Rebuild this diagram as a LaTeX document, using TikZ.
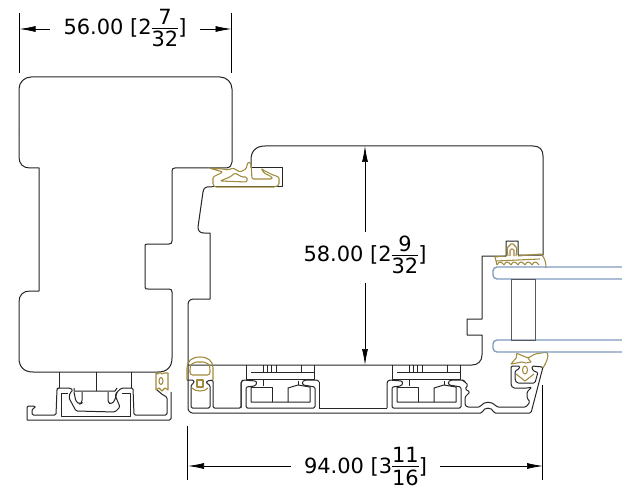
\documentclass[tikz,border=0pt]{standalone}
\usepackage{fontspec}
\setmainfont{DejaVu Sans}
\usetikzlibrary{arrows.meta}
\definecolor{sealgold}{HTML}{A08A3C}
\definecolor{glassblue}{HTML}{7E9ABD}
\tikzset{
	profile/.style={draw=black!85, line width=.75pt, line join=round},
	seal/.style={draw=sealgold, line width=.8pt, line join=round},
	glass/.style={draw=glassblue, line width=1pt},
	dimline/.style={line width=.55pt},
	dimarrow/.style={line width=.55pt, -{Latex[length=12pt, width=4.5pt]}},
	dimtext/.style={font=\fontsize{15.7}{17}\selectfont, inner sep=0pt, anchor=base},
}
\newcommand{\frc}[2]{\raisebox{-9pt}{\vbox{\offinterlineskip\halign{\hfil##\hfil\cr #1\cr\noalign{\kern2.2pt\hrule height .6pt\kern2.2pt}#2\cr}}}}
\begin{document}
\begin{tikzpicture}[x=.75pt, y=-.75pt]
		\useasboundingbox (0, 0) rectangle (622, 492);
		\fill[white] (0, 0) rectangle (622, 492);

		% dimensions
		\node[dimtext] (width) at (125, 35) {56.00 [2\frc{7}{32}]};
		\node[dimtext] (height) at (365, 262) {58.00 [2\frc{9}{32}]};
		\node[dimtext] (overall) at (365.5, 473) {94.00 [3\frc{11}{16}]};
		\coordinate (wl) at (19.5, 29);
		\coordinate (wr) at (231.5, 29);
		\coordinate (wa) at (50, 29);
		\coordinate (wb) at (200, 29);
		\coordinate (ht) at (365, 146);
		\coordinate (hb) at (365, 365);
		\coordinate (ol) at (188, 466);
		\coordinate (or) at (543, 466);
		\coordinate (oa) at (291, 466);
		\coordinate (ob) at (440, 466);

		\draw[dimline] (19.5, 13) -- (19.5, 73);
		\draw[dimline] (231.5, 13) -- (231.5, 73);
		\draw[dimline] (187.5, 426) -- (187.5, 480);
		\draw[dimline] (542.5, 385) -- (542.5, 480);
		\draw[dimarrow] (wa) -- (wl);
		\draw[dimarrow] (wb) -- (wr);
		\draw[dimarrow] (height.north) ++(0, -4) -- (ht);
		\draw[dimarrow] (height.south) ++(0, 8) -- (hb);
		\draw[dimarrow] (oa) -- (ol);
		\draw[dimarrow] (ob) -- (or);

		% left sash
		\draw[profile, rounded corners=9pt] (19, 130) -- (19, 77) -- (232, 77) -- (232, 130);
		\draw[profile] (232, 130) -- (232, 162) .. controls (232, 165) and (230, 168) .. (226, 168) -- (175, 168) .. controls (173, 168) and (172, 169) .. (172, 171) -- (172, 241) .. controls (172, 243) and (171, 244) .. (169, 244) -- (147, 244) .. controls (145, 244) and (145, 245) .. (145, 247) -- (145, 287) .. controls (145, 289) and (146, 289) .. (148, 289) -- (169, 289) .. controls (171, 289) and (172, 290) .. (172, 292) -- (172, 358) .. controls (172, 367) and (167, 372) .. (158, 372) -- (33, 372) .. controls (24, 372) and (19, 367) .. (19, 358) -- (19, 302) .. controls (19, 295) and (23, 291) .. (30, 291) -- (39, 291) -- (39, 168) -- (30, 168) .. controls (23, 168) and (19, 164) .. (19, 157) -- (19, 130);

		% left base
		\draw[profile] (59, 372) -- (59, 388) (96, 372) -- (96, 391) (131, 372) -- (131, 388);
		\draw[profile, rounded corners=1pt] (27, 420) -- (27, 406) -- (35, 406) -- (35, 408) -- (32, 409) -- (32, 415) -- (56, 415) -- (57, 389) -- (58, 388) -- (70, 388) -- (73, 390) -- (70, 393) -- (69, 398) -- (76, 411) -- (115, 412) -- (120, 407) -- (115, 395) -- (119, 390) -- (122, 388) -- (133, 388) -- (134, 415) -- (167, 415) -- (167, 397) -- (163, 395) -- (157, 390);
		\draw[profile, rounded corners=1pt] (27, 420) -- (171, 420) -- (171, 392);
		\draw[profile] (68, 393) -- (61, 393) -- (61, 416) -- (130, 416) -- (130, 393) -- (122, 393);
		\draw[profile] (74, 388) -- (74, 391) -- (115, 391) -- (117, 388);
		\draw[profile, rounded corners=2pt] (74, 392) -- (76, 402) -- (80, 404) -- (82, 403) -- (82, 392);
		\draw[profile, rounded corners=2pt] (108, 392) -- (108, 403) -- (112, 404) -- (115, 400) -- (117, 392);
		\draw[seal] (156, 373) -- (158, 374) -- (160, 372.5) -- (162, 374) -- (164, 373) -- (168, 373) -- (168, 390) -- (165, 388) -- (162, 391) -- (159, 388) -- (156, 390) -- cycle;
		\draw[seal] (161, 381) ellipse (2 and 3.5);

		% main frame
		\draw[profile] (251, 168) -- (251, 160) .. controls (251, 151) and (256, 146) .. (265, 146) -- (533, 146) .. controls (540, 146) and (543, 150) .. (543, 156) -- (543, 255) -- (518, 255) -- (518, 241) -- (506, 241) -- (506, 256) -- (482, 256) -- (482, 319) -- (467, 319) -- (467, 335) -- (482, 335) -- (482, 355) .. controls (482, 361) and (478, 365) .. (472, 365) -- (188, 365);
		\draw[profile] (251, 168) -- (282, 168) -- (282, 187) -- (212, 187);
		\draw[profile] (212, 187) -- (207, 187) .. controls (205, 187) and (203, 189) .. (203, 192) -- (198, 227) .. controls (198, 231) and (200, 233) .. (204, 233) -- (210, 233) -- (210, 299) -- (194, 299) .. controls (190, 299) and (188, 301) .. (188, 305) -- (188, 365);

		% main base
		\draw[profile, rounded corners=1pt] (188, 365) -- (188, 410) -- (191, 413) -- (482, 413) .. controls (484, 407) and (492, 407) .. (494, 413) -- (531, 413) -- (543, 367) -- (532, 366) -- (532, 369) -- (535, 372) -- (538, 372) -- (535, 383) -- (517, 383) -- (515, 380) -- (515, 371) -- (519, 369) -- (520, 366) -- (511, 366) -- (511, 385) -- (513, 388) -- (528, 388) -- (532, 387) -- (527, 392) -- (527, 398) -- (530, 402) -- (526, 407) -- (497, 407) .. controls (492, 401) and (484, 401) .. (480, 407) -- (467, 407) -- (465, 405) -- (465, 397) -- (470, 392) -- (465, 389) -- (468, 385) -- (465, 382) -- (462, 380);
		\draw[profile, rounded corners=1pt] (187, 380) -- (194, 380) -- (194, 383) -- (191, 385) -- (191, 408) -- (210, 408) -- (210, 385) -- (206, 383) -- (207, 381) -- (213, 380) -- (213, 408) -- (241, 408) -- (241, 382) -- (243, 380);
		\draw[profile] (319, 408) -- (387, 408);
		\foreach \x in {0, 146} {
			\begin{scope}[xshift=\x*.75pt]
				\draw[profile] (246, 365) -- (246, 379) -- (314, 379) -- (314, 365);
				\draw[profile] (251, 372) -- (314, 372);
				\draw[profile] (263, 365) -- (263, 372) (267, 365) -- (267, 372) (271, 365) -- (271, 372) (276, 365) -- (276, 372) (301, 365) -- (301, 372);
				\draw[profile] (263, 380) -- (263, 386) (298, 381) -- (298, 385);
				\draw[profile, rounded corners=1pt] (241, 408) -- (241, 382) -- (243, 380) -- (256, 381) -- (257, 383) -- (255, 386) -- (246, 387) -- (246, 408) -- (315, 408) -- (315, 387) -- (303, 385) -- (302, 382) -- (305, 380) -- (318, 380) -- (319, 382);
				\draw[profile] (251, 387) -- (251, 402) -- (310, 402) -- (310, 387) -- (298, 385) -- (288, 388) -- (288, 402);
				\draw[profile] (251, 387) -- (272, 387) -- (272, 402);
			\end{scope}
		}
		\draw[profile] (319, 382) -- (319, 408);

		% seals
		\draw[seal] (187, 380) -- (187, 368) .. controls (187, 361) and (192, 357) .. (200, 357) .. controls (208, 357) and (213, 361) .. (213, 368) -- (213, 380);
		\draw[seal, rounded corners=2pt] (190, 375) -- (190, 368) .. controls (191, 364) and (195, 362) .. (200, 362) .. controls (205, 362) and (209, 364) .. (210, 368) -- (210, 375) -- cycle;
		\draw[seal] (197, 380) rectangle (203, 387);
		\draw[seal] (192, 388) .. controls (195, 392) and (205, 392) .. (208, 388);
		\draw[seal, rounded corners=1pt] (209, 168) -- (223, 172) -- (213, 177) -- (213, 185) -- (215, 187) -- (275, 187) -- (279, 185) -- (279, 177) -- (273, 175) -- (263, 170) -- (261, 168) -- (264, 173) -- (272, 177) -- (272, 179) -- (252, 179) -- (251, 163) -- (248, 162) -- (246, 169) -- (240, 172) -- (233, 168) -- (228, 170) -- (223, 169) -- cycle;
		\draw[seal, rounded corners=1pt] (220, 181) -- (230, 177) -- (235, 173) -- (242, 177) -- (247, 177) -- (247, 182) -- cycle;
		\draw[seal] (497, 265) -- (495, 257) -- (505, 256) (518, 256) -- (541, 254) .. controls (545, 258) and (546, 263) .. (546, 268);
		\draw[seal] (496, 261) -- (540, 259);
		\foreach \x in {497, 504, 511, 518, 525, 532} {
			\draw[seal] (\x, 265) .. controls (\x+2, 261) and (\x+4, 261) .. (\x+7, 265);
		}
		\draw[seal, rounded corners=1pt] (508, 256) -- (507, 248) -- (512, 243) -- (517, 248) -- (516, 256);
		\draw[seal, rounded corners=1pt] (510, 256) -- (510, 249) -- (514, 249) -- (514, 256);
		\draw[seal, rounded corners=1pt] (511, 364) -- (517, 357) -- (516, 353) -- (528, 358) -- (535, 354) -- (547, 352) .. controls (549, 357) and (546, 363) .. (543, 368);
		\draw[seal] (511, 364) -- (522, 362) -- (526, 363) -- (531, 362) -- (528, 358);
		\draw[seal] (525, 370) ellipse (2.5 and 4);
		\draw[seal] (516, 374) -- (525, 381) -- (534, 374);

		% glazing
		\draw[glass, rounded corners=3pt] (623, 267) -- (493, 267) -- (493, 279) -- (623, 279);
		\draw[glass, rounded corners=3pt] (623, 340) -- (493, 340) -- (493, 352) -- (623, 352);
		\draw[profile, draw=black!65] (511, 340) -- (511, 279) -- (535, 279) -- (535, 340) -- cycle;
	\end{tikzpicture}
\end{document}
